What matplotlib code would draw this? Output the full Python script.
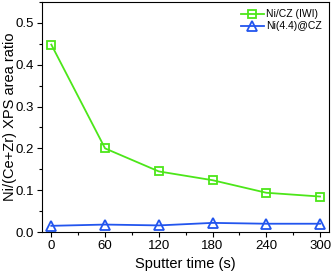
import numpy as np
import matplotlib
matplotlib.use('Agg')
import matplotlib.pyplot as plt
from matplotlib.ticker import MultipleLocator

plt.rcParams['font.family'] = ['Liberation Sans', 'DejaVu Sans']

# data
time_s = [0, 60, 120, 180, 240, 300]
ni_cz_iwi = [0.448, 0.200, 0.145, 0.124, 0.094, 0.085]
ni44_cz = [0.015, 0.018, 0.016, 0.022, 0.020, 0.020]

fig = plt.figure(figsize=(3.31, 2.75), dpi=100)
ax = fig.add_axes([0.128, 0.156, 0.866, 0.837])

ax.plot(time_s, ni_cz_iwi, color='#4ce619', lw=1.3, marker='s', ms=6,
        mfc='none', mec='#4ce619', mew=1.3, label='Ni/CZ (IWI)')
ax.plot(time_s, ni44_cz, color='#2255ee', lw=1.3, marker='^', ms=7,
        mfc='none', mec='#2255ee', mew=1.3, label='Ni(4.4)@CZ')

ax.set_xlim(-10, 310)
ax.set_ylim(0, 0.55)
ax.set_xticks(time_s)
ax.xaxis.set_minor_locator(MultipleLocator(30))
ax.yaxis.set_major_locator(MultipleLocator(0.1))
ax.yaxis.set_minor_locator(MultipleLocator(0.05))
ax.tick_params(which='major', direction='out', length=3.5, width=0.8,
               labelsize=9.5, pad=2.5)
ax.tick_params(which='minor', direction='out', length=2, width=0.8)

ax.set_xlabel('Sputter time (s)', fontsize=10.5, labelpad=3)
ax.set_ylabel('Ni/(Ce+Zr) XPS area ratio', fontsize=10.5)
ax.yaxis.set_label_coords(-0.09, 0.5)

ax.legend(loc='upper right', frameon=False, fontsize=7.5, handlelength=2.2,
          handletextpad=0.2, borderaxespad=0.3, labelspacing=0.2)

fig.savefig('out.png', dpi=100)
